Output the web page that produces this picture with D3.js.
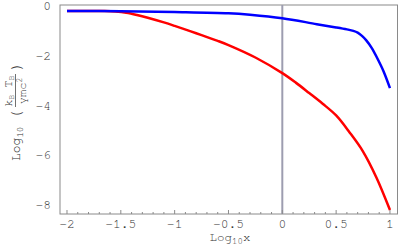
<!DOCTYPE html>
<html><head><meta charset="utf-8">
<script src="https://cdn.jsdelivr.net/npm/d3@7"></script>
<style>body{margin:0;background:#fff}svg{display:block}</style>
</head><body>
<svg id="c" width="400" height="247"></svg>
<script>
const xTicks = [-2, -1.5, -1, -0.5, 0, 0.5, 1];
const yTicks = [0, -2, -4, -6, -8];
const redX = [-2, -1.8, -1.65, -1.55, -1.45, -1.35, -1.25, -1.1, -1, -0.85, -0.75, -0.6, -0.5, -0.25, 0, 0.125, 0.25, 0.375, 0.5, 0.625, 0.75, 0.875, 1];
const redY = [-0.2, -0.2, -0.2, -0.22, -0.27, -0.36, -0.47, -0.66, -0.8, -1.02, -1.17, -1.4, -1.57, -2.07, -2.7, -3.08, -3.5, -3.93, -4.4, -5.08, -5.85, -6.9, -8.2];
const blueX = [-2, -1.5, -1, -0.5, -0.3, 0, 0.32, 0.5, 0.6, 0.66, 0.7, 0.74, 0.78, 0.83, 0.88, 0.94, 1];
const blueY = [-0.2, -0.21, -0.24, -0.29, -0.35, -0.49, -0.73, -0.86, -0.94, -1.0, -1.07, -1.2, -1.38, -1.68, -2.08, -2.62, -3.3];

const svg = d3.select("#c");
const L = 60, R = 397.5, T = 5, B = 214;
const x = d3.scaleLinear().domain([-2.065, 1.07]).range([L, R]);
const y = d3.scaleLinear().domain([0.04, -8.36]).range([T, B]);
const FONT = "FreeMono";
const txt = "#333";

// frame
svg.append("rect").attr("x", L).attr("y", T).attr("width", R - L).attr("height", B - T)
  .attr("fill", "none").attr("stroke", "#8a8a8a").attr("stroke-width", 1);

// zero line
svg.append("line").attr("x1", x(0)).attr("x2", x(0)).attr("y1", T).attr("y2", B)
  .attr("stroke", "#9d9db0").attr("stroke-width", 2);

// bottom ticks
const minor = d3.range(-20, 11).map(d => d / 10);
svg.append("g").selectAll("line").data(minor).join("line")
  .attr("x1", d => x(d)).attr("x2", d => x(d))
  .attr("y1", B).attr("y2", d => Math.abs(d * 2 - Math.round(d * 2)) < 1e-6 ? B - 4 : B - 2)
  .attr("stroke", "#8a8a8a").attr("stroke-width", 1);

const fmt = d => (d < 0 ? "\u2212" : "") + Math.abs(d);
svg.append("g").selectAll("text").data(xTicks).join("text")
  .attr("font-family", FONT).attr("x", d => x(d)).attr("y", 228).attr("text-anchor", "middle")
  .attr("font-size", 13).attr("fill", txt)
  .text(fmt);

svg.append("g").selectAll("text").data(yTicks).join("text")
  .attr("font-family", FONT).attr("x", 51).attr("y", d => y(d) + 4).attr("text-anchor", "end")
  .attr("font-size", 13).attr("fill", txt)
  .text(fmt);

// x title
const xt = svg.append("text").attr("font-family", FONT).attr("x", 230).attr("y", 240.5).attr("text-anchor", "middle")
  .attr("font-size", 12.5).attr("fill", txt);
xt.append("tspan").text("Log");
xt.append("tspan").attr("font-size", 9).attr("dy", 3).text("10");
xt.append("tspan").attr("dy", -3).text("x");

// y title
const g = svg.append("g").attr("transform", "translate(16,100) rotate(-90)").attr("fill", txt);
const t1 = g.append("text").attr("font-family", FONT).attr("x", -61).attr("y", 4).attr("font-size", 13);
t1.append("tspan").text("Log");
t1.append("tspan").attr("font-size", 9).attr("dy", 3).text("10");
g.append("text").attr("font-family", FONT).attr("x", -19).attr("y", 5).attr("font-size", 15).text("(");
g.append("text").attr("font-family", FONT).attr("x", 9).attr("y", -4).attr("text-anchor", "middle").attr("font-size", 12)
  .html('k<tspan font-size="8" dy="2">B</tspan><tspan dy="-2"> T</tspan><tspan font-size="8" dy="2">B</tspan>');
g.append("line").attr("x1", -7).attr("x2", 26).attr("y1", -0.5).attr("y2", -0.5)
  .attr("stroke", txt).attr("stroke-width", 0.7);
g.append("text").attr("font-family", FONT).attr("x", 9).attr("y", 10).attr("text-anchor", "middle").attr("font-size", 12)
  .html('γmc<tspan font-size="8" dy="-4">2</tspan>');
g.append("text").attr("font-family", FONT).attr("x", 29).attr("y", 5).attr("font-size", 15).text(")");

// curves
const line = d3.line().x(d => x(d[0])).y(d => y(d[1])).curve(d3.curveCatmullRom.alpha(0.5));
svg.append("path").datum(d3.zip(redX, redY)).attr("d", line)
  .attr("fill", "none").attr("stroke", "#ff0000").attr("stroke-width", 2.5);
svg.append("path").datum(d3.zip(blueX, blueY)).attr("d", line)
  .attr("fill", "none").attr("stroke", "#0000ff").attr("stroke-width", 2.5);
</script>
</body></html>
